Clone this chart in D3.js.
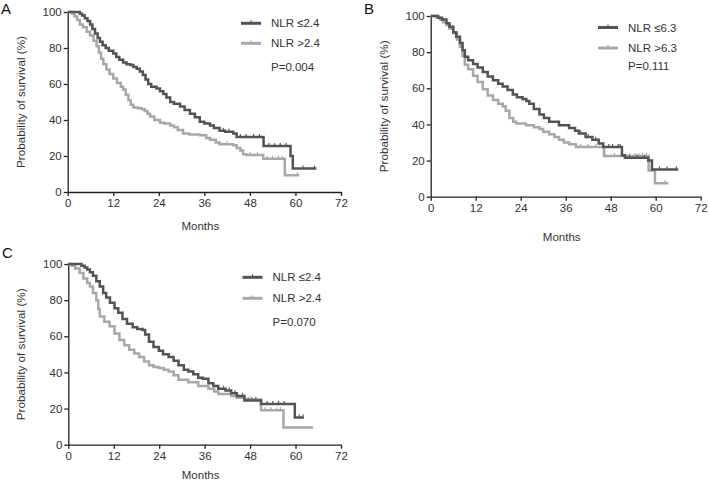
<!DOCTYPE html>
<html><head><meta charset="utf-8">
<script src="https://cdn.jsdelivr.net/npm/d3@7"></script>
<style>
body{margin:0;background:#fff;}
svg{display:block;font-family:"Liberation Sans",Arial,sans-serif;}
</style></head>
<body><svg id="c" width="709" height="480"></svg>
<script>
const monthTicks = [0,12,24,36,48,60,72];
const survTicks = [0,20,40,60,80,100];

// Panel A
const aLowTime = [0,3.2,3.8,4.5,5.2,5.9,6.5,7.2,7.9,8.5,9.2,10,10.8,12,12.8,13.6,14.6,15.5,16.5,17.3,18.2,19,19.8,20.5,21.2,22,23.4,24.3,25.2,26,27,28,29.6,30.8,32.2,33.5,34.8,36,37.5,38.5,40,41.5,43.6,44.5,51.6,58.7,59.3,65.5];
const aLowSurv = [100,99,98,96.5,95,93,90.5,88,85.5,83.5,81.5,80,78.5,77,75,73.5,72,71,70.5,69.5,68.5,67,65,62.5,60,58.5,57.5,56,54.5,52.5,50,49,47.5,45.5,43.5,41.5,39,38,37,35.5,34,33.5,32.5,30.5,25.5,20,13,13];
const aHighTime = [0,1.2,1.8,2.5,3.2,4,5,5.9,6.8,7.6,8.2,8.8,9.4,10.2,11,12,13,14,14.6,15.3,16,16.6,17.3,18.5,19.5,20.3,21,21.7,22.8,24.3,25.5,27,28,29,30.4,32,34.8,36.5,37.5,39,40,43.6,44.5,45.5,46.2,47,51.5,57.2,61];
const aHighSurv = [100,99,97.5,95.5,93,91.5,89,87,84,81,77.5,74,71,68,65.5,63,60.5,58.5,57,54,51,48.5,47,46.5,46,45,43.5,42,40,38.5,38,37,36,34.5,32.5,32,31.5,30,29,27.5,26.5,26,24.5,23,21,20.5,18.5,9.3,9.3];
const aLowCens = [41,42.5,45.5,47,49,50.5,53,54.5,56,57.5,62,65];
const aHighCens = [42,48,50,52.5,54,55.5,56.5,60.5];

// Panel B
const bLowTime = [0,2,3,4.2,5,6,6.8,7.8,8.5,9.1,10,11.3,12.5,13.9,15.2,16.6,18,19.2,20.5,21.9,23,24.5,25.5,26.3,27.5,29,30.2,31.6,34.2,36.9,38.5,39.5,41.3,43.1,44.8,46,51,51.8,58,59,66];
const bLowSurv = [100,99,98,96,94,91,88.5,85,81,77.5,75.5,73.5,71.5,69,66.5,64.5,62.5,61,59,56.5,55,54,53,51.5,48.5,45.5,43.5,41.5,39.5,38,36.5,35,33,31.5,29.5,27.5,23,21.5,20,15,15];
const bHighTime = [0,1.6,2.5,3.3,4.2,5,6,7,7.8,8.5,9.1,10,11.3,12.5,13.9,15.2,16.6,18,19.2,20,21,22,22.8,25.4,27.5,29,30,31.6,33,34.2,35.5,36.9,38.7,46.2,58.1,59.8,63.4];
const bHighSurv = [100,99,98,96.5,95,93,90.5,87,83,78,73,70.5,67,63.5,59.5,56,53.5,51.5,50,47.5,43.5,41.5,40.5,39.5,38.5,37.5,36,34.5,33,31.5,30,29,27.5,22.5,14.5,7.5,7.5];
const bLowCens = [40,42,44,47.5,48.5,50,50.5,53,55,57,61,63,65.5];
const bHighCens = [40,42,44,46.5,49,51,53,54.5,55.5,56.5,57.5,62.5];

// Panel C
const cLowTime = [0,3.5,4.3,5,5.7,6.5,7.4,8.3,9.2,10,11,12.2,13.2,14.3,15.5,17,18.2,19.6,20.3,21.3,22.5,23.9,25,26.5,27.8,29.1,30.5,31.7,33,34.3,35.5,37,38.3,39.6,41.5,43,44.5,46.5,50.9,59.8,62.2];
const cLowSurv = [100,99,98,97,95.5,93.5,90.5,87.5,84,81.5,78.5,75.5,73,69.5,67,65,64,63.5,61,57,54,52,50,48.5,46.5,44,41.5,40.5,39,37,36.5,34,32.5,31,30,28.5,27,24.5,22.5,15,15];
const cHighTime = [0,0.9,1.8,3,4,5,5.7,6.5,7.4,7.9,8.3,9.5,10.9,12.2,13.5,14.8,16.1,17.4,18.7,20,21.3,22.5,23.9,25.2,26.5,27.8,29.1,31.7,34.3,37,38.5,39.6,43,44.5,46.5,50.9,56.8,64.6];
const cHighSurv = [100,99,97.5,95,92,89.5,87.5,84,80,75,71,68,65.5,61.5,58,55,52.5,50.5,48.5,46,44,43,42.5,41.5,40.5,38.5,36,34.5,32.5,31,29.5,28,27,26,25,19,9.5,9.5];
const cLowCens = [41,42.5,44,46,47.5,48.5,49.5,52.5,54,55.5,57,61,62];
const cHighCens = [45,48,49.5,52,53.5,55,56];

const darkColor = "#535353", lightColor = "#a8a8a8";

const panels = [
  {letter:"A", lx:1, ly:13.5, x0:67.7, x1:341, y0:192, y1:12, monthsY:226,
   legX:241, legY:23.3, legDy:20, pDy:43.5,
   names:["NLR \u22642.4","NLR >2.4"], p:"P=0.004",
   series:[[aLowTime,aLowSurv,aLowCens,darkColor],[aHighTime,aHighSurv,aHighCens,lightColor]]},
  {letter:"B", lx:364, ly:13.5, x0:430.7, x1:700.7, y0:196.7, y1:16, monthsY:237,
   legX:598, legY:27.5, legDy:20.5, pDy:38,
   names:["NLR \u22646.3","NLR >6.3"], p:"P=0.111",
   series:[[bLowTime,bLowSurv,bLowCens,darkColor],[bHighTime,bHighSurv,bHighCens,lightColor]]},
  {letter:"C", lx:2, ly:258, x0:68.3, x1:341, y0:444.7, y1:264, monthsY:475,
   legX:242.5, legY:277.3, legDy:21, pDy:45,
   names:["NLR \u22642.4","NLR >2.4"], p:"P=0.070",
   series:[[cLowTime,cLowSurv,cLowCens,darkColor],[cHighTime,cHighSurv,cHighCens,lightColor]]}
];

const svg = d3.select("#c");

function survAt(times, surv, t){
  let v = surv[0];
  for(let i=0;i<times.length;i++){ if(times[i]<=t) v = surv[i]; }
  return v;
}

panels.forEach(p=>{
  const x = d3.scaleLinear().domain([0,72]).range([p.x0,p.x1]);
  const y = d3.scaleLinear().domain([0,100]).range([p.y0,p.y1]);
  const g = svg.append("g");

  g.append("text").attr("x",p.lx).attr("y",p.ly).text(p.letter)
    .attr("font-size",15).attr("fill","#111");

  const xAxis = g.append("g").attr("transform",`translate(0,${p.y0})`)
    .call(d3.axisBottom(x).tickValues(monthTicks).tickSize(4).tickPadding(3).tickSizeOuter(0));
  const yAxis = g.append("g").attr("transform",`translate(${p.x0},0)`)
    .call(d3.axisLeft(y).tickValues(survTicks).tickSize(4).tickPadding(2).tickSizeOuter(0));
  [xAxis,yAxis].forEach(a=>{
    a.selectAll("path,line").attr("stroke","#222").attr("stroke-width",1.3);
    a.selectAll("text").attr("font-size",11.5).attr("fill","#333")
      .attr("font-family","Liberation Sans, Arial, sans-serif");
  });

  g.append("text").attr("x",(p.x0+p.x1)/2 - 4).attr("y",p.monthsY+4)
    .attr("text-anchor","middle").attr("font-size",11.5).attr("fill","#333").text("Months");
  g.append("text")
    .attr("transform",`translate(${p.x0-43},${(p.y0+p.y1)/2}) rotate(-90)`)
    .attr("text-anchor","middle").attr("font-size",11.7).attr("fill","#333")
    .text("Probability of survival (%)");

  const line = d3.line().x(d=>x(d[0])).y(d=>y(d[1])).curve(d3.curveStepAfter);
  [p.series[1],p.series[0]].forEach(s=>{
    const [t,v,cens,col] = s;
    const pts = t.map((tt,i)=>[tt,v[i]]);
    g.append("path").datum(pts).attr("d",line).attr("fill","none")
      .attr("stroke",col).attr("stroke-width",2.5);
    g.selectAll(null).data(cens).enter().append("line")
      .attr("x1",d=>x(d)).attr("x2",d=>x(d))
      .attr("y1",d=>y(survAt(t,v,d))-1).attr("y2",d=>y(survAt(t,v,d))-3)
      .attr("stroke",col).attr("stroke-width",1.2);
  });

  p.series.forEach((s,i)=>{
    const ly = p.legY + i*p.legDy;
    g.append("line").attr("x1",p.legX).attr("x2",p.legX+20).attr("y1",ly).attr("y2",ly)
      .attr("stroke",s[3]).attr("stroke-width",3);
    g.append("line").attr("x1",p.legX+10).attr("x2",p.legX+10).attr("y1",ly-1).attr("y2",ly-3)
      .attr("stroke",s[3]).attr("stroke-width",1.2);
    g.append("text").attr("x",p.legX+30).attr("y",ly+4).attr("font-size",11.5)
      .attr("fill","#333").text(p.names[i]);
  });
  g.append("text").attr("x",p.legX+30).attr("y",p.legY+p.pDy+4).attr("font-size",11.5)
    .attr("fill","#333").text(p.p);
});
</script></body></html>
